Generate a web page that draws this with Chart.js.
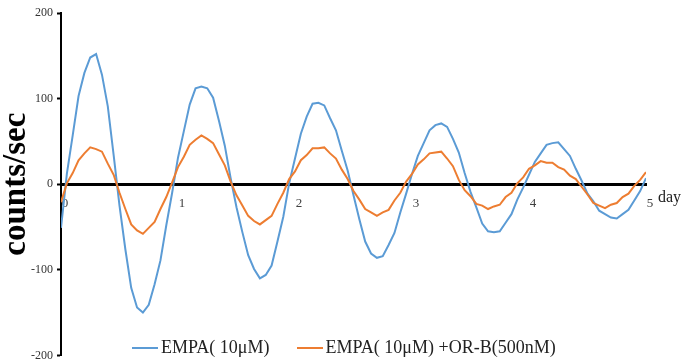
<!DOCTYPE html>
<html>
<head>
<meta charset="utf-8">
<script src="https://cdn.jsdelivr.net/npm/chart.js@4.4.1/dist/chart.umd.min.js"></script>
<style>
  body { margin: 0; background: #fff; }
  #wrap { position: relative; width: 682px; height: 360px; overflow: hidden; }
  #leyenda {
    position: absolute; left: 132px; top: 337px;
    display: flex; gap: 27px;
    font-family: "Liberation Serif", serif; font-size: 18px; color: #222;
  }
  #leyenda span.item { display: flex; align-items: center; }
  #leyenda span.linea { display: inline-block; width: 26px; height: 2px; margin-right: 3px; }
</style>
</head>
<body>
<div id="wrap">
  <canvas id="grafica" width="682" height="363"></canvas>
  <div id="leyenda"></div>
</div>
<script>
// dias (eje x)
var dias = [0, 0.05, 0.1, 0.15, 0.2, 0.25, 0.3, 0.35, 0.4, 0.45,
  0.5, 0.55, 0.6, 0.65, 0.7, 0.75, 0.8, 0.85, 0.9, 0.95,
  1, 1.05, 1.1, 1.15, 1.2, 1.25, 1.3, 1.35, 1.4, 1.45,
  1.5, 1.55, 1.6, 1.65, 1.7, 1.75, 1.8, 1.85, 1.9, 1.95,
  2, 2.05, 2.1, 2.15, 2.2, 2.25, 2.3, 2.35, 2.4, 2.45,
  2.5, 2.55, 2.6, 2.65, 2.7, 2.75, 2.8, 2.85, 2.9, 2.95,
  3, 3.05, 3.1, 3.15, 3.2, 3.25, 3.3, 3.35, 3.4, 3.45,
  3.5, 3.55, 3.6, 3.65, 3.7, 3.75, 3.8, 3.85, 3.9, 3.95,
  4, 4.05, 4.1, 4.15, 4.2, 4.25, 4.3, 4.35, 4.4, 4.45,
  4.5, 4.55, 4.6, 4.65, 4.7, 4.75, 4.8, 4.85, 4.9, 4.95, 5];

// EMPA(10uM)
var empa = [-51, 12, 57, 103, 130, 148, 152, 128, 91, 34,
  -25, -76, -121, -144, -150, -141, -117, -89, -48, -10,
  31, 62, 93, 112, 114, 112, 101, 74, 45, 7,
  -27, -56, -83, -99, -110, -106, -95, -67, -38, 1,
  30, 59, 79, 94, 95, 92, 77, 63, 39, 16,
  -13, -41, -67, -81, -86, -84, -71, -57, -33, -11,
  12, 33, 48, 63, 69, 71, 67, 53, 37, 13,
  -9, -27, -46, -55, -56, -55, -45, -35, -18, -4,
  11, 26, 36, 46, 48, 49, 41, 33, 18, 4,
  -11, -20, -31, -35, -39, -40, -35, -30, -19, -8, 7];

// EMPA(10uM) + OR-B(500nM)
var empaOrb = [-21, 1, 13, 28, 36, 43, 41, 38, 24, 11,
  -10, -29, -47, -54, -58, -51, -44, -29, -15, 2,
  20, 32, 46, 52, 57, 53, 48, 35, 22, 3,
  -13, -25, -37, -43, -47, -42, -37, -23, -10, 6,
  15, 28, 34, 42, 42, 43, 36, 30, 17, 6,
  -8, -18, -29, -33, -37, -33, -30, -19, -10, 3,
  12, 23, 29, 36, 37, 38, 30, 21, 5, -7,
  -14, -23, -25, -29, -26, -24, -15, -10, 1, 8,
  18, 22, 27, 25, 25, 20, 17, 10, 6, -3,
  -12, -22, -25, -28, -24, -22, -15, -11, -2, 5, 14];

var etiquetas = ["EMPA( 10\u03bcM)", "EMPA( 10\u03bcM) +OR-B(500nM)"];
var colores = ["#5B9BD5", "#ED7D31"];
var ticksY = [-200, -100, 0, 100, 200];

function puntos(valores) {
    return dias.map(function (d, i) { return { x: d, y: valores[i] }; });
}

// texto "day" al final del eje x
var textoDia = {
    id: 'textoDia',
    afterDraw: function (chart) {
        let ctx = chart.ctx;
        let x = chart.scales.x;
        let y0 = chart.scales.y.getPixelForValue(0);
        ctx.save();
        ctx.font = '16px "Liberation Serif"';
        ctx.fillStyle = '#222';
        ctx.textBaseline = 'middle';
        ctx.fillText('day', x.right + 12, y0 + 14);
        ctx.restore();
    }
};

var canvas = document.getElementById('grafica');
var diagrama = new Chart(canvas, {
    type: 'line',
    data: {
        datasets: [{
            label: etiquetas[0],
            data: puntos(empa),
            borderColor: colores[0],
            borderWidth: 2,
            pointRadius: 0,
            fill: false,
            tension: 0,
            order: 1
        }, {
            label: etiquetas[1],
            data: puntos(empaOrb),
            borderColor: colores[1],
            borderWidth: 2,
            pointRadius: 0,
            fill: false,
            tension: 0,
            order: 0
        }]
    },
    options: {
        responsive: false,
        animation: false,
        layout: { padding: { top: 13, right: 36, bottom: 4, left: 0 } },
        plugins: {
            legend: { display: false },
            tooltip: { enabled: false }
        },
        scales: {
            x: {
                type: 'linear',
                position: { y: 0 },
                min: 0,
                max: 5,
                afterFit: function (axis) {
                    axis.height = 0;
                },
                grid: { display: false },
                border: { color: '#000', width: 3 },
                ticks: {
                    stepSize: 1,
                    labelOffset: 4,
                    padding: 4,
                    color: '#404040',
                    font: { family: 'Liberation Serif', size: 13 }
                }
            },
            y: {
                min: -200,
                max: 200,
                afterBuildTicks: function (axis) {
                    axis.ticks = ticksY.map(function (v) { return { value: v }; });
                },
                afterFit: function (axis) {
                    axis.width = 61;
                },
                grid: {
                    drawOnChartArea: false,
                    drawTicks: true,
                    tickLength: 4,
                    tickWidth: 2,
                    tickColor: '#000'
                },
                border: { color: '#000', width: 2 },
                ticks: {
                    padding: 4,
                    color: '#333',
                    font: { family: 'Liberation Serif', size: 12, lineHeight: 0.6 }
                },
                title: {
                    display: true,
                    text: 'counts/sec',
                    color: '#000',
                    padding: { top: 0, bottom: 0 },
                    font: { family: 'Liberation Serif', size: 33, weight: 'bold', lineHeight: 1 }
                }
            }
        }
    },
    plugins: [textoDia]
});

// leyenda en html
var leyenda = document.getElementById('leyenda');
for (let i = 0; i < etiquetas.length; i++) {
    let item = document.createElement('span');
    item.className = 'item';
    item.innerHTML = '<span class="linea" style="background:' + colores[i] + '"></span>' + etiquetas[i];
    leyenda.appendChild(item);
}
</script>
</body>
</html>
